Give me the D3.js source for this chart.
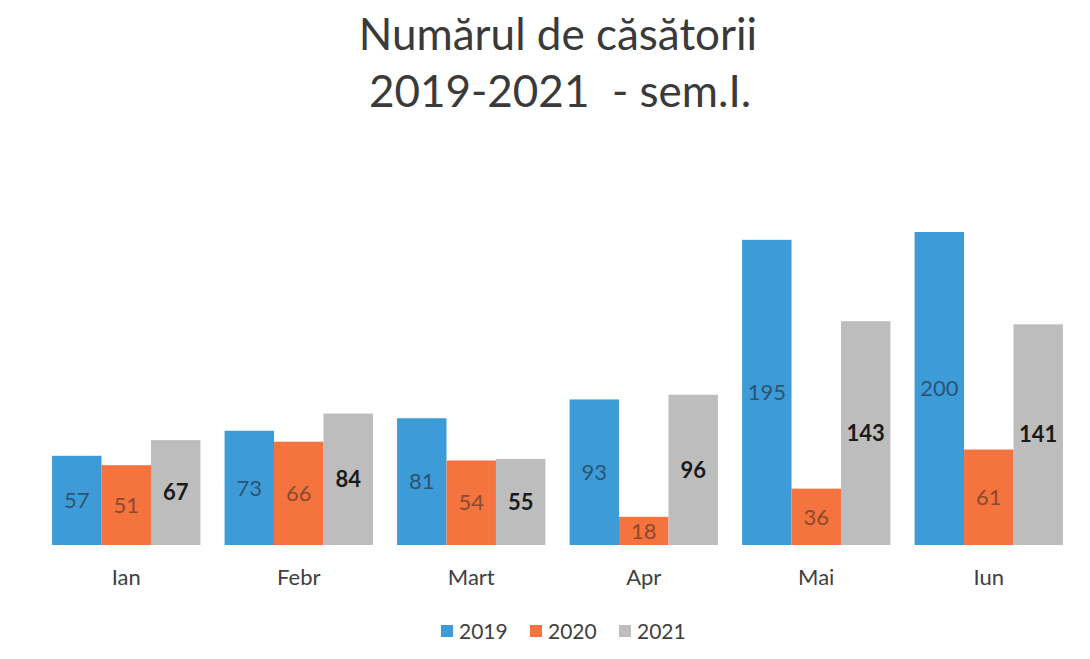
<!DOCTYPE html>
<html>
<head>
<meta charset="utf-8">
<script src="https://cdn.jsdelivr.net/npm/d3@7"></script>
<style>
  body { margin: 0; background: #fff; }
  text { font-family: Lato, "Open Sans", sans-serif; }
</style>
</head>
<body>
<div id="chart-area"></div>
<script>
// chart data
var months = ["Ian", "Febr", "Mart", "Apr", "Mai", "Iun"];
var years = ["2019", "2020", "2021"];
var v2019 = [57, 73, 81, 93, 195, 200];
var v2020 = [51, 66, 54, 18, 36, 61];
var v2021 = [67, 84, 55, 96, 143, 141];

var colors = ["#3d9cd8", "#f5733f", "#bdbdbd"];
var labelColors = ["#2b5473", "#8a4a2e", "#1a1a1a"];

var W = 1090, H = 659;
var svg = d3.select("#chart-area")
    .append("svg")
        .attr("width", W)
        .attr("height", H);

// title
svg.append("text")
    .attr("x", 558).attr("y", 50)
    .attr("text-anchor", "middle")
    .attr("font-size", "44px")
    .attr("fill", "#3a3a3a")
    .text("Numărul de căsătorii");
svg.append("text")
    .attr("x", 560).attr("y", 107)
    .attr("text-anchor", "middle")
    .attr("font-size", "44px")
    .attr("fill", "#3a3a3a")
    .style("white-space", "pre")
    .text("2019-2021  - sem.I.");

var baseY = 545;
var x = d3.scaleBand()
    .domain(months)
    .range([40, 1075])
    .paddingInner(0.14)
    .paddingOuter(0.07);
var x1 = d3.scaleBand()
    .domain(years)
    .range([0, x.bandwidth()]);
var y = d3.scaleLinear()
    .domain([0, 200])
    .range([baseY, baseY - 313]);

var series = [v2019, v2020, v2021];
var data = [];
months.forEach(function(m, i){
    years.forEach(function(yr, j){
        data.push({month: m, year: yr, idx: j, value: series[j][i]});
    });
});

var g = svg.append("g");
g.selectAll("rect").data(data).enter()
    .append("rect")
        .attr("x", function(d){ return x(d.month) + x1(d.year); })
        .attr("y", function(d){ return y(d.value); })
        .attr("width", x1.bandwidth())
        .attr("height", function(d){ return baseY - y(d.value); })
        .attr("fill", function(d){ return colors[d.idx]; });

g.selectAll("text.lbl").data(data).enter()
    .append("text")
        .attr("class", "lbl")
        .attr("x", function(d){ return x(d.month) + x1(d.year) + x1.bandwidth() / 2; })
        .attr("y", function(d){ return (y(d.value) + baseY) / 2; })
        .attr("dy", "0.35em")
        .attr("text-anchor", "middle")
        .attr("font-size", "22px")
        .attr("font-weight", function(d){ return d.idx == 2 ? "bold" : "normal"; })
        .attr("fill", function(d){ return labelColors[d.idx]; })
        .text(function(d){ return d.value; });

// x axis
var xAxis = d3.axisBottom(x).tickSize(0).tickPadding(24);
var xAxisGroup = svg.append("g")
    .attr("transform", "translate(0," + baseY + ")")
    .call(xAxis);
xAxisGroup.select(".domain").remove();
xAxisGroup.selectAll("text")
    .attr("font-size", "22px")
    .attr("font-family", "Lato, sans-serif")
    .attr("fill", "#404040");

// legend
var legendX = [441, 530, 619];
var legend = svg.append("g");
years.forEach(function(yr, j){
    legend.append("rect")
        .attr("x", legendX[j]).attr("y", 625)
        .attr("width", 12).attr("height", 12)
        .attr("fill", colors[j]);
    legend.append("text")
        .attr("x", legendX[j] + 18).attr("y", 639)
        .attr("font-size", "21px")
        .attr("fill", "#404040")
        .text(yr);
});
</script>
</body>
</html>
